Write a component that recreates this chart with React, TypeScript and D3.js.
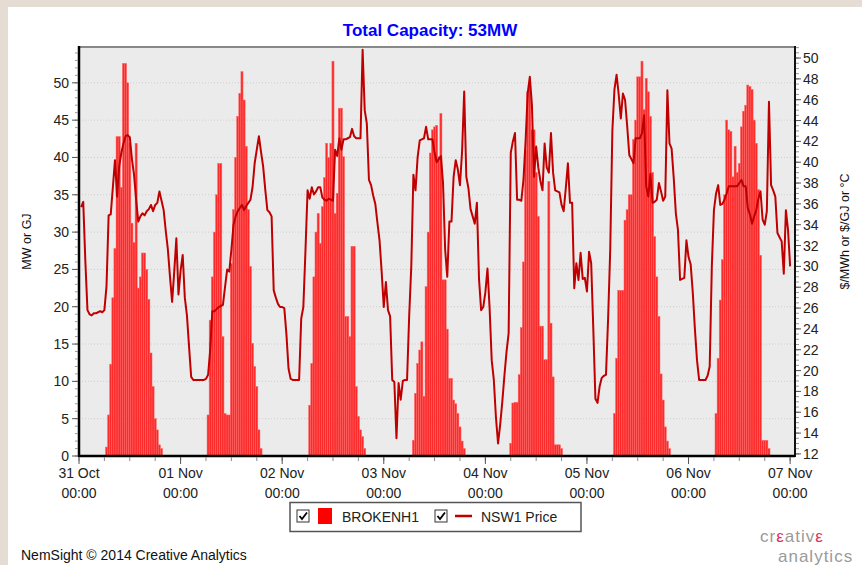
import React, { useEffect, useRef } from "react";
import * as d3 from "d3";

// x axis labels, one per day
const dayLabels = ["31 Oct", "01 Nov", "02 Nov", "03 Nov", "04 Nov", "05 Nov", "06 Nov", "07 Nov"];

// NSW1 price ($/MWh), half hourly, first value is 00:30 of the day
const price31Oct = [35.7, 36.2, 30.5, 25.8, 25.4, 25.3, 25.5, 25.5, 25.6, 25.7, 25.6, 25.8, 28.1, 34.9, 35.0, 37.6, 40.2, 36.7, 39.6, 40.9, 41.8, 42.5, 42.6, 42.4, 40.3, 38.8, 36.4, 34.3, 34.8, 35.1, 34.9, 35.3, 35.5, 35.9, 35.3, 35.9, 36.1, 37.2, 36.3, 35.4, 33.4, 31.6, 29.0, 26.6, 29.5, 32.7, 27.3, 29.6];
const price01Nov = [31.1, 27.0, 25.3, 22.3, 19.4, 19.1, 19.1, 19.1, 19.1, 19.1, 19.1, 19.2, 19.6, 22.0, 25.7, 25.7, 25.9, 26.1, 26.2, 26.3, 28.0, 29.7, 29.5, 31.6, 34.0, 34.8, 35.3, 35.6, 35.9, 35.4, 35.8, 36.1, 36.4, 37.6, 39.9, 41.2, 42.5, 41.0, 39.6, 37.4, 35.4, 35.2, 34.8, 27.7, 27.0, 26.4, 26.1, 26.1];
const price02Nov = [26.0, 23.5, 20.2, 19.2, 19.1, 19.1, 19.1, 19.1, 25.0, 26.1, 31.5, 37.3, 36.5, 37.6, 36.9, 37.2, 37.6, 37.6, 36.6, 36.4, 36.3, 36.5, 36.4, 36.3, 41.2, 40.6, 42.3, 41.2, 42.2, 42.2, 42.3, 42.4, 43.2, 42.5, 42.3, 42.3, 42.3, 50.8, 45.0, 43.7, 38.3, 37.8, 36.8, 36.0, 34.2, 32.5, 29.5, 26.1];
const price03Nov = [28.5, 25.8, 25.2, 19.1, 18.9, 13.5, 18.8, 17.2, 19.0, 19.1, 19.1, 25.2, 30.0, 38.8, 37.3, 40.5, 42.1, 42.2, 42.3, 43.4, 42.2, 42.2, 42.2, 40.9, 40.0, 40.3, 40.6, 38.0, 31.6, 29.0, 34.3, 34.3, 38.6, 40.2, 39.3, 37.8, 41.0, 46.8, 38.6, 37.5, 35.5, 34.8, 34.1, 36.1, 28.8, 25.8, 26.1, 27.5];
const price04Nov = [29.8, 26.0, 21.0, 19.1, 15.5, 13.0, 14.8, 17.0, 19.5, 21.8, 23.6, 40.9, 42.0, 42.8, 36.4, 36.4, 36.3, 38.3, 42.0, 46.6, 48.2, 45.5, 38.6, 41.5, 39.5, 38.2, 37.3, 41.8, 39.5, 39.0, 42.8, 39.0, 37.3, 37.2, 37.1, 35.9, 35.3, 37.5, 39.9, 36.1, 36.1, 27.9, 30.3, 28.7, 31.3, 28.8, 28.9, 27.6];
const price05Nov = [31.4, 30.3, 24.0, 17.3, 16.9, 18.5, 19.3, 19.5, 19.6, 25.0, 31.6, 43.0, 47.0, 48.4, 46.5, 44.2, 46.6, 46.0, 43.5, 40.7, 40.3, 39.9, 42.3, 42.3, 42.3, 42.8, 44.5, 37.7, 36.7, 38.9, 36.1, 36.2, 36.4, 38.0, 37.2, 36.3, 36.7, 46.9, 41.8, 41.3, 38.5, 35.1, 33.5, 28.7, 28.8, 28.9, 32.5, 30.9];
const price06Nov = [30.2, 27.5, 24.0, 21.0, 19.1, 19.1, 19.1, 19.1, 19.5, 20.4, 30.0, 35.4, 37.0, 37.8, 35.9, 36.0, 36.4, 37.0, 37.7, 37.7, 37.7, 37.7, 37.7, 38.0, 38.3, 37.7, 37.7, 35.6, 35.0, 34.1, 34.8, 35.4, 36.5, 37.2, 34.5, 34.0, 35.3, 45.8, 37.8, 37.3, 36.7, 33.2, 32.8, 32.4, 29.3, 35.4, 33.5, 30.0];
const priceDays = [price31Oct, price01Nov, price02Nov, price03Nov, price04Nov, price05Nov, price06Nov];

// BROKENH1 output (MW), half hourly, starting at the half hour slot in barStarts
const barStarts = [13, 61, 109, 158, 204, 253, 301];
const mw31Oct = [1.2, 5.5, 12.3, 21.2, 27.8, 42.8, 42.8, 36, 52.6, 52.6, 50, 42, 31.2, 28.6, 41.9, 22.5, 24, 27.2, 27.2, 25, 21, 13.8, 9.3, 5, 3.5, 1.5, 1.0];
const mw01Nov = [5.5, 18.2, 24, 30, 35, 39.2, 39.2, 16, 5.7, 5.5, 5.5, 25.8, 33, 40, 45.5, 48.6, 51.5, 47.7, 41.5, 33, 25.4, 15.1, 12, 9.3, 3.5, 1.0];
const mw02Nov = [6.8, 12.4, 24, 30, 32.5, 28.5, 33.4, 37.3, 41.9, 40, 41.9, 52.9, 32.5, 35.2, 46.6, 46.6, 40.1, 18.7, 18.7, 16, 28.1, 28.1, 9.3, 5.3, 3.5, 2.6, 1];
const mw03Nov = [2.1, 8.4, 12.4, 14.2, 15.3, 8, 22.7, 30, 40.6, 43.7, 44.1, 44.3, 40.1, 45.9, 23.6, 23.6, 17, 10.4, 10.4, 7.5, 7, 5.7, 3.9, 2, 1];
const mw04Nov = [1.7, 7.1, 7.2, 7.2, 10.9, 17.2, 26, 41, 48.8, 49.7, 43.7, 43.7, 38, 32.1, 17.4, 17.4, 12.9, 12.9, 36.8, 17.8, 10.6, 1.5, 1.5, 1.5, 1];
const mw05Nov = [5.7, 13.1, 22.2, 22.2, 22.2, 31.6, 33, 35, 35, 42.4, 45, 50.8, 50.8, 52.9, 46.4, 50.6, 48.8, 45.5, 38, 29.4, 24, 18.7, 11, 7.5, 3.9, 2, 1];
const mw06Nov = [5.7, 13.1, 20.9, 26.3, 35, 45, 43.7, 43.5, 37.4, 41.5, 38, 39.2, 44.1, 46.2, 47, 49.7, 49.5, 49.1, 45, 41.9, 35.7, 26.9, 2.1, 2.1, 2.1, 1];
const mwDays = [mw31Oct, mw01Nov, mw02Nov, mw03Nov, mw04Nov, mw05Nov, mw06Nov];

const FONT = "'Liberation Sans', Arial, sans-serif";

export default function App() {
  const ref = useRef<SVGSVGElement>(null);

  useEffect(() => {
    document.body.style.margin = "0";
    const W = 862;
    const H = 565;
    const left = 79, right = 795, top = 47, bottom = 456;

    const svg = d3.select(ref.current);
    svg.selectAll("*").remove();

    svg.append("rect").attr("width", W).attr("height", H).attr("fill", "#e5ddd3");
    svg.append("rect").attr("x", 8).attr("y", 7).attr("width", W - 8).attr("height", H - 7).attr("fill", "#fff");

    // scales (x in half-hour slots from 31 Oct 00:00)
    const x = d3.scaleLinear().domain([0, 338.3]).range([left, right]);
    const yMw = d3.scaleLinear().domain([0, 54.8]).range([bottom, top]);
    const yPrice = d3.scaleLinear().domain([11.8, 51.06]).range([bottom, top]);

    // title
    svg.append("text")
      .attr("x", 430).attr("y", 36)
      .attr("text-anchor", "middle")
      .attr("font-family", FONT).attr("font-size", 17).attr("font-weight", "bold")
      .attr("fill", "#0000ff")
      .text("Total Capacity: 53MW");

    // plot background
    svg.append("rect")
      .attr("x", left).attr("y", top)
      .attr("width", right - left).attr("height", bottom - top)
      .attr("fill", "#ebebeb");

    // grid
    svg.append("g").selectAll("line")
      .data(d3.range(5, 55, 5))
      .join("line")
      .attr("x1", left).attr("x2", right)
      .attr("y1", (d) => yMw(d)).attr("y2", (d) => yMw(d))
      .attr("stroke", "#cdcdcd").attr("stroke-dasharray", "1,2");

    // bars
    const bars = mwDays.flatMap((arr, d) => arr.map((v, k) => ({ slot: barStarts[d] + k, v })));
    svg.append("g").selectAll("rect")
      .data(bars)
      .join("rect")
      .attr("x", (d) => x(d.slot - 0.5))
      .attr("width", (d) => x(d.slot + 0.5) - x(d.slot - 0.5))
      .attr("y", (d) => yMw(d.v))
      .attr("height", (d) => yMw(0) - yMw(d.v))
      .attr("fill", "#ff0000").attr("fill-opacity", 0.82)
      .attr("stroke", "#ff6a6a").attr("stroke-width", 0.5);

    // price line
    const prices = priceDays.flatMap((arr, d) => arr.map((v, j) => ({ slot: d * 48 + j + 1, v })));
    const line = d3.line<{ slot: number; v: number }>()
      .x((d) => x(d.slot))
      .y((d) => yPrice(d.v));
    svg.append("path")
      .datum(prices)
      .attr("d", line)
      .attr("fill", "none")
      .attr("stroke", "#c00000")
      .attr("stroke-width", 2)
      .attr("stroke-linejoin", "round");

    // frame
    svg.append("line").attr("x1", left).attr("x2", right).attr("y1", top).attr("y2", top)
      .attr("stroke", "#888").attr("stroke-width", 2);
    svg.append("line").attr("x1", right).attr("x2", right).attr("y1", top - 1).attr("y2", bottom + 1)
      .attr("stroke", "#111").attr("stroke-width", 2);
    svg.append("line").attr("x1", left).attr("x2", left).attr("y1", top - 1).attr("y2", bottom + 1)
      .attr("stroke", "#000").attr("stroke-width", 2.5);
    svg.append("line").attr("x1", left).attr("x2", right).attr("y1", bottom).attr("y2", bottom)
      .attr("stroke", "#000").attr("stroke-width", 2.5);

    // left axis ticks
    const gl = svg.append("g");
    gl.selectAll("line.minor").data(d3.range(0, 55, 1)).join("line")
      .attr("x1", 75).attr("x2", 78).attr("y1", (d) => yMw(d)).attr("y2", (d) => yMw(d))
      .attr("stroke", "#999");
    gl.selectAll("line.major").data(d3.range(0, 55, 5)).join("line")
      .attr("x1", 72).attr("x2", 78).attr("y1", (d) => yMw(d)).attr("y2", (d) => yMw(d))
      .attr("stroke", "#555");
    gl.selectAll("text").data(d3.range(0, 55, 5)).join("text")
      .attr("x", 69).attr("y", (d) => yMw(d) + 5)
      .attr("text-anchor", "end")
      .attr("font-family", FONT).attr("font-size", 14).attr("fill", "#222")
      .text((d) => d);

    // right axis ticks
    const gr = svg.append("g");
    gr.selectAll("line.minor").data(d3.range(12, 51.01, 0.5)).join("line")
      .attr("x1", 796).attr("x2", 799).attr("y1", (d) => yPrice(d)).attr("y2", (d) => yPrice(d))
      .attr("stroke", "#999");
    gr.selectAll("line.major").data(d3.range(12, 51, 2)).join("line")
      .attr("x1", 796).attr("x2", 801).attr("y1", (d) => yPrice(d)).attr("y2", (d) => yPrice(d))
      .attr("stroke", "#555");
    gr.selectAll("text").data(d3.range(12, 51, 2)).join("text")
      .attr("x", 803).attr("y", (d) => yPrice(d) + 5)
      .attr("font-family", FONT).attr("font-size", 14).attr("fill", "#222")
      .text((d) => d);

    // bottom axis ticks
    const gb = svg.append("g");
    gb.selectAll("line.minor").data(d3.range(0, 337, 12)).join("line")
      .attr("x1", (d) => x(d)).attr("x2", (d) => x(d)).attr("y1", 457).attr("y2", 461)
      .attr("stroke", "#888");
    gb.selectAll("line.major").data(d3.range(0, 337, 48)).join("line")
      .attr("x1", (d) => x(d)).attr("x2", (d) => x(d)).attr("y1", 457).attr("y2", 464)
      .attr("stroke", "#555");
    const lab = gb.selectAll("g.lab").data(dayLabels).join("g")
      .attr("transform", (d, i) => `translate(${x(i * 48)},0)`);
    lab.append("text").attr("y", 478).attr("text-anchor", "middle")
      .attr("font-family", FONT).attr("font-size", 14).attr("fill", "#222")
      .text((d) => d);
    lab.append("text").attr("y", 498).attr("text-anchor", "middle")
      .attr("font-family", FONT).attr("font-size", 14).attr("fill", "#222")
      .text("00:00");

    // axis titles
    svg.append("text")
      .attr("transform", `translate(31,${(top + bottom) / 2 - 10}) rotate(-90)`)
      .attr("text-anchor", "middle")
      .attr("font-family", FONT).attr("font-size", 12.5).attr("fill", "#111")
      .text("MW or GJ");
    svg.append("text")
      .attr("transform", `translate(849,${(top + bottom) / 2 - 20}) rotate(-90)`)
      .attr("text-anchor", "middle")
      .attr("font-family", FONT).attr("font-size", 12.5).attr("fill", "#111")
      .text("$/MWh or $/GJ or °C");

    // legend
    const lg = svg.append("g");
    lg.append("rect").attr("x", 290).attr("y", 502.5).attr("width", 291).attr("height", 29)
      .attr("fill", "#fff").attr("stroke", "#555").attr("stroke-width", 1.5);
    const check = (cx: number) => {
      lg.append("rect").attr("x", cx).attr("y", 510).attr("width", 12).attr("height", 12)
        .attr("fill", "#fff").attr("stroke", "#333");
      lg.append("path").attr("d", `M${cx + 2.5},${516} L${cx + 5},${519} L${cx + 10},${512.5}`)
        .attr("fill", "none").attr("stroke", "#000").attr("stroke-width", 1.8);
    };
    check(297);
    lg.append("rect").attr("x", 318).attr("y", 508).attr("width", 14).attr("height", 16).attr("fill", "#ff0000");
    lg.append("text").attr("x", 342).attr("y", 521.5)
      .attr("font-family", FONT).attr("font-size", 14).attr("fill", "#222").text("BROKENH1");
    check(435);
    lg.append("line").attr("x1", 455).attr("x2", 472).attr("y1", 516).attr("y2", 516)
      .attr("stroke", "#c00000").attr("stroke-width", 2.5);
    lg.append("text").attr("x", 481).attr("y", 521.5)
      .attr("font-family", FONT).attr("font-size", 14).attr("fill", "#222").text("NSW1 Price");

    // footer
    svg.append("text").attr("x", 21).attr("y", 560)
      .attr("font-family", FONT).attr("font-size", 14).attr("fill", "#111")
      .text("NemSight © 2014 Creative Analytics");

    const logo = svg.append("text").attr("x", 760).attr("y", 542)
      .attr("font-family", FONT).attr("font-size", 17).attr("fill", "#9a9a9a")
      .attr("letter-spacing", 1);
    logo.append("tspan").text("cr");
    logo.append("tspan").attr("fill", "#e0305a").text("ε");
    logo.append("tspan").text("ativ");
    logo.append("tspan").attr("fill", "#e0305a").text("ε");
    svg.append("text").attr("x", 778).attr("y", 562)
      .attr("font-family", FONT).attr("font-size", 17).attr("fill", "#9a9a9a")
      .attr("letter-spacing", 1)
      .text("analytics");
  }, []);

  return <svg ref={ref} width={862} height={565} style={{ display: "block" }} />;
}
